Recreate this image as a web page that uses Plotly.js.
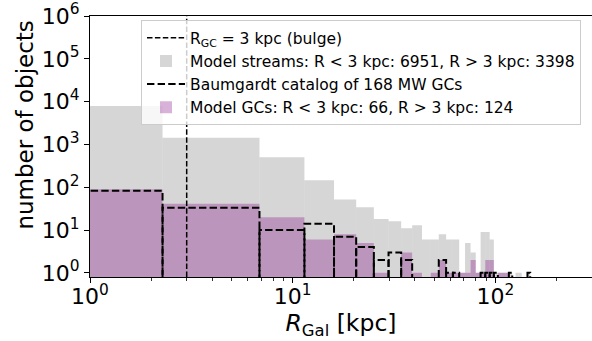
<!DOCTYPE html>
<html>
<head>
<meta charset="utf-8">
<script src="https://cdn.plot.ly/plotly-3.0.1.min.js"></script>
<style>html,body{margin:0;padding:0;background:#fff;}#chart{width:592px;height:341px;}</style>
</head>
<body>
<div id="chart"></div>
<script>
// Bin edges (kpc), shared by all three histograms
const binEdges = [0, 2.28, 6.86, 11.43, 16.0, 20.58, 25.16, 29.73, 34.31, 38.88, 43.46,
  48.03, 52.61, 57.18, 61.76, 66.33, 70.91, 75.48, 80.06, 84.63, 89.21, 93.78, 98.36,
  102.93, 107.51, 112.08, 116.66, 121.23, 125.81, 130.38, 134.96, 139.53, 144.11, 148.68];

// Model streams counts per bin
const streamCounts = [7900, 1430, 503, 145, 52, 34, 18, 16, 11, 13, 6, 6, 8, 6, 6, 1, 5, 3, 1,
  9, 9, 6, 1, 1, 1, 1, 1, 0, 1, 1, 0, 0, 1];
// Baumgardt catalogue counts per bin
const baumCounts = [83, 33, 10, 14, 7, 4, 2, 3, 2, 0, 0, 0, 2, 1, 1, 0, 0, 0, 0,
  1, 1, 1, 1, 0, 0, 0, 1, 0, 0, 0, 0, 0, 1];
// Model GCs counts per bin
const gcCounts = [90, 41, 20, 6, 8, 5, 1, 0, 3, 1, 0, 1, 2, 1, 1, 1, 1, 2, 1,
  1, 2, 2, 0, 1, 1, 1, 0, 0, 0, 0, 0, 0, 0];

const bulgeR = 3;
const xTickVals = [1, 10, 100];
const xTickText = ['10<sup>0</sup>', '10<sup>1</sup>', '10<sup>2</sup>'];
const yTickVals = [1, 10, 100, 1000, 10000, 100000, 1000000];
const yTickText = ['10<sup>0</sup>', '10<sup>1</sup>', '10<sup>2</sup>', '10<sup>3</sup>',
  '10<sup>4</sup>', '10<sup>5</sup>', '10<sup>6</sup>'];

const labels = {
  bulge: 'R<sub>GC</sub> = 3 kpc (bulge)',
  streams: 'Model streams: R &lt; 3 kpc: 6951, R &gt; 3 kpc: 3398',
  baum: 'Baumgardt catalog of 168 MW GCs',
  gcs: 'Model GCs: R &lt; 3 kpc: 66, R &gt; 3 kpc: 124'
};
const xTitle = '<i>R</i><sub>Gal</sub> [kpc]';
const yTitle = 'number of objects';

const X_MIN = 1, X_MAX = 300, Y_MIN = 0.8, Y_MAX = 1e6;
const FONT = 'DejaVu Sans, sans-serif';

const centers = binEdges.slice(0, -1).map((e, i) => (e + binEdges[i + 1]) / 2);
const widths = binEdges.slice(0, -1).map((e, i) => binEdges[i + 1] - e);

// dashed outlines of unfilled bars (Baumgardt)
const floorY = Y_MIN / 10;
const clampX = v => Math.max(v, X_MIN / 2);
const bx = [], by = [];
baumCounts.forEach((c, i) => {
  if (c <= 0) return;
  const a = clampX(binEdges[i]), b = clampX(binEdges[i + 1]);
  bx.push(a, a, b, b, null);
  by.push(floorY, c, c, floorY, null);
});

const traces = [
  {type: 'scatter', mode: 'lines', x: [bulgeR, bulgeR], y: [Y_MIN, Y_MAX],
   line: {color: 'black', width: 1.5, dash: '5.5px,2.4px'}, name: labels.bulge},
  {type: 'bar', x: centers, y: streamCounts, width: widths,
   marker: {color: 'rgba(128,128,128,0.32)', line: {width: 0}}, name: labels.streams},
  {type: 'scatter', mode: 'lines', x: bx, y: by, connectgaps: false,
   line: {color: 'black', width: 2, dash: '7.4px,3.2px'}, name: labels.baum},
  {type: 'bar', x: centers, y: gcCounts, width: widths,
   marker: {color: 'rgba(128,0,128,0.3)', line: {width: 0}}, name: labels.gcs}
];

const layout = {
  width: 592, height: 341,
  margin: {l: 90, r: 0, t: 16, b: 64, pad: 0},
  paper_bgcolor: 'white', plot_bgcolor: 'white',
  barmode: 'overlay',
  font: {family: FONT, color: 'black'},
  showlegend: true,
  legend: {x: 0.1016, y: 0.984, xanchor: 'left', yanchor: 'top', itemwidth: 38,
    bgcolor: 'rgba(255,255,255,0.8)', bordercolor: '#cccccc', borderwidth: 1,
    font: {family: FONT, size: 15.5, color: 'black'}, traceorder: 'normal'},
  xaxis: {type: 'log', range: [Math.log10(X_MIN), Math.log10(X_MAX)],
    tickvals: xTickVals, ticktext: xTickText, ticks: 'outside', ticklen: 5, tickwidth: 1,
    tickcolor: 'black', showline: true, linecolor: 'black', linewidth: 1, mirror: true,
    showgrid: false, zeroline: false, ticklabelstandoff: -5,
    minor: {ticks: 'outside', ticklen: 3, tickwidth: 0.8, tickcolor: 'black', dtick: 'D1', showgrid: false},
    tickfont: {family: FONT, size: 22, color: 'black'},
    title: {text: xTitle, font: {family: FONT, size: 23.5, color: 'black'}, standoff: 4}},
  yaxis: {type: 'log', range: [Math.log10(Y_MIN), Math.log10(Y_MAX)],
    tickvals: yTickVals, ticktext: yTickText, ticks: 'outside', ticklen: 5, tickwidth: 1,
    tickcolor: 'black', showline: true, linecolor: 'black', linewidth: 1,
    showgrid: false, zeroline: false,
    tickfont: {family: FONT, size: 22, color: 'black'}},
  annotations: [
    {text: yTitle, xref: 'paper', yref: 'paper', x: -0.1285, y: 0.582,
     xanchor: 'center', yanchor: 'middle', textangle: -90, showarrow: false,
     font: {family: FONT, size: 23, color: 'black'}}
  ]
};

Plotly.newPlot('chart', traces, layout, {displayModeBar: false, staticPlot: true});
</script>
</body>
</html>
